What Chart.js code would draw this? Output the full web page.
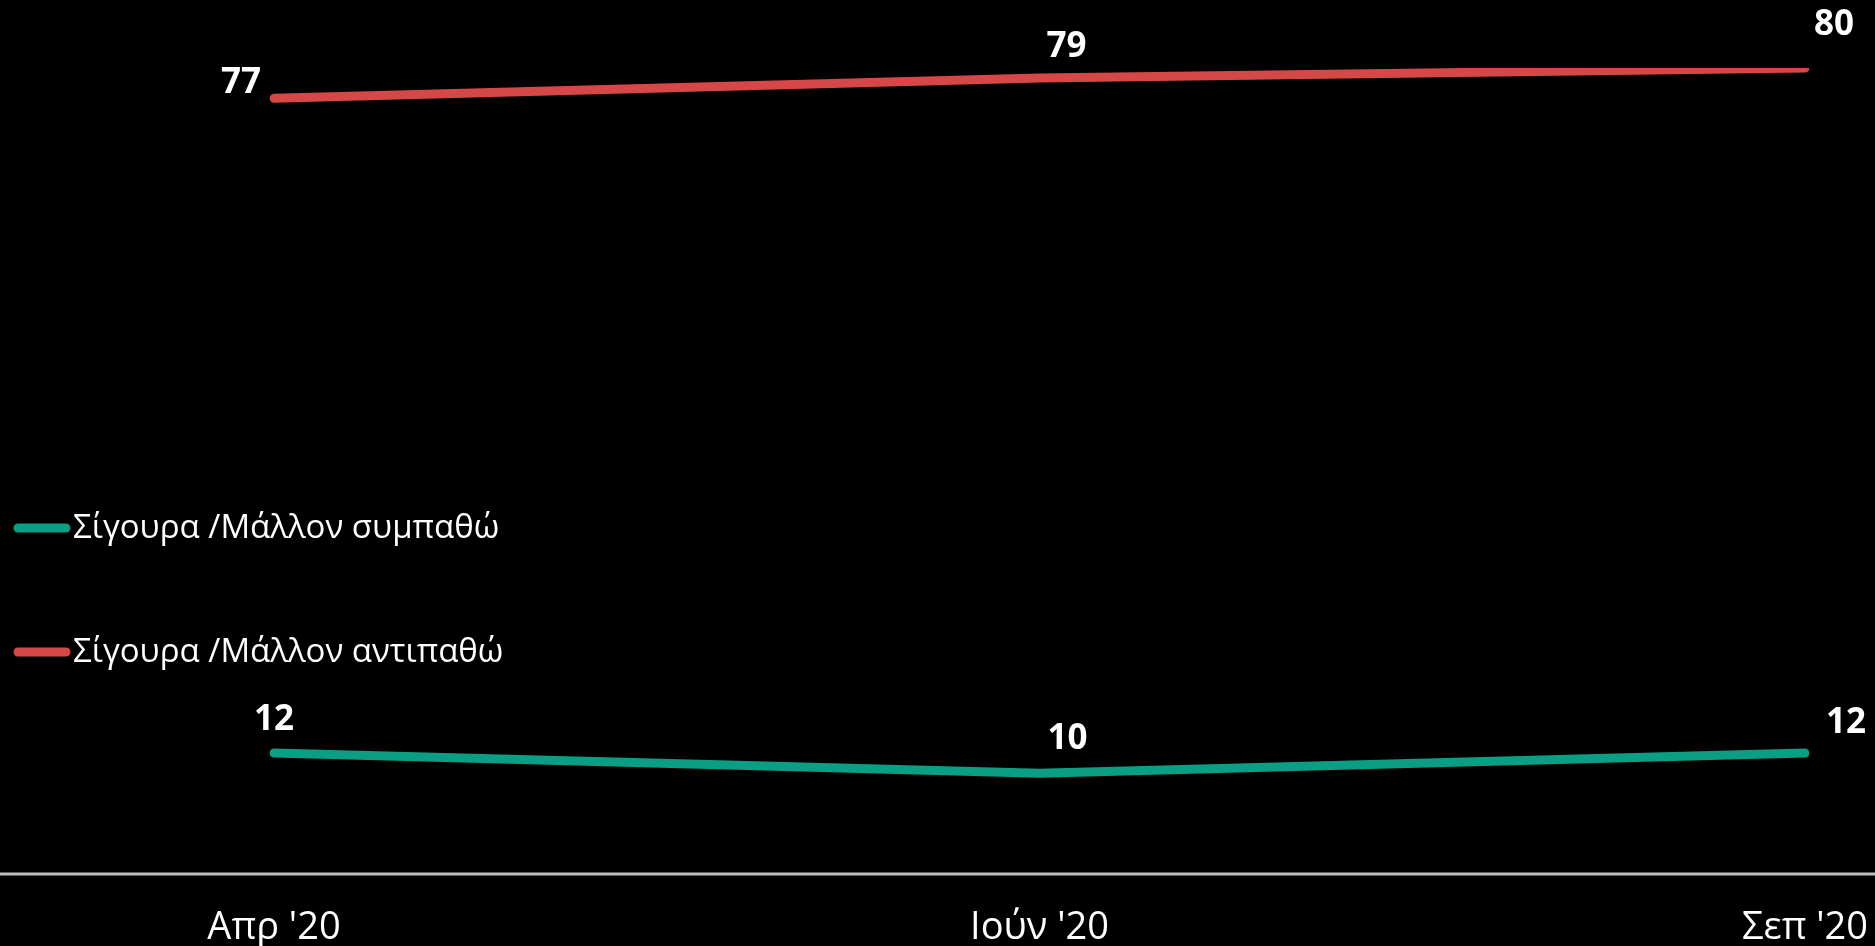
<!DOCTYPE html>
<html>
<head>
<meta charset="utf-8">
<script src="https://cdn.jsdelivr.net/npm/chart.js@4.4.1/dist/chart.umd.min.js"></script>
<style>
  html, body { margin: 0; padding: 0; background: #000; }
  #wrap { width: 1875px; height: 946px; }
</style>
</head>
<body>
<div id="wrap"><canvas id="chart"></canvas></div>
<script>
var months = ["Απρ '20", "Ιούν '20", "Σεπ '20"];
var likeLabel = 'Σίγουρα /Μάλλον συμπαθώ';
var dislikeLabel = 'Σίγουρα /Μάλλον αντιπαθώ';
var likeValues = [12, 10, 12];
var dislikeValues = [77, 79, 80];

var green = '#0a9e84';
var red = '#d64848';
var fontName = "'Open Sans', sans-serif";

// where each value label sits relative to its point (px)
var labelOffsets = [
    [[0, -33], [28, -34], [41, -30]],
    [[-33, -15], [27, -31], [29, -43]]
];

var valueLabels = {
    id: 'valueLabels',
    afterDatasetsDraw: function(chart) {
        var ctx = chart.ctx;
        ctx.save();
        ctx.fillStyle = '#fff';
        ctx.font = 'bold 35px ' + fontName;
        ctx.textAlign = 'center';
        ctx.textBaseline = 'middle';
        chart.data.datasets.forEach(function(ds, i) {
            chart.getDatasetMeta(i).data.forEach(function(pt, j) {
                var off = labelOffsets[i][j];
                ctx.fillText(ds.data[j], pt.x + off[0], pt.y + off[1]);
            });
        });
        ctx.restore();
    }
};

var baseLine = {
    id: 'baseLine',
    beforeDatasetsDraw: function(chart) {
        var ctx = chart.ctx;
        var y = chart.scales.y.getPixelForValue(0);
        ctx.save();
        ctx.strokeStyle = '#bdbdbd';
        ctx.lineWidth = 3;
        ctx.beginPath();
        ctx.moveTo(0, y);
        ctx.lineTo(chart.width, y);
        ctx.stroke();
        ctx.restore();
    }
};

var sideLegend = {
    id: 'sideLegend',
    afterDraw: function(chart) {
        var ctx = chart.ctx;
        var rows = [528, 652];
        ctx.save();
        ctx.font = '33px ' + fontName;
        ctx.textBaseline = 'middle';
        ctx.lineCap = 'round';
        chart.data.datasets.forEach(function(ds, i) {
            var y = rows[i];
            ctx.strokeStyle = ds.borderColor;
            ctx.lineWidth = 9;
            ctx.beginPath();
            ctx.moveTo(18, y);
            ctx.lineTo(66, y);
            ctx.stroke();
            ctx.fillStyle = '#fff';
            ctx.fillText(ds.label, 73, y + 1);
        });
        ctx.restore();
    }
};

var chart = new Chart(document.getElementById('chart'), {
    type: 'line',
    data: {
        labels: months,
        datasets: [{
                label: likeLabel,
                data: likeValues,
                borderColor: green,
                backgroundColor: green,
                borderWidth: 9,
                borderCapStyle: 'round',
                borderJoinStyle: 'round',
                pointRadius: 0,
                tension: 0
            },
            {
                label: dislikeLabel,
                data: dislikeValues,
                borderColor: red,
                backgroundColor: red,
                borderWidth: 9,
                borderCapStyle: 'round',
                borderJoinStyle: 'round',
                pointRadius: 0,
                tension: 0
            }
        ]
    },
    options: {
        responsive: true,
        maintainAspectRatio: false,
        animation: false,
        layout: { padding: { left: 274, right: 70, top: 68, bottom: 0 } },
        plugins: {
            legend: { display: false },
            tooltip: { enabled: false }
        },
        scales: {
            x: {
                offset: false,
                grid: { display: false, drawTicks: false },
                border: { display: false },
                ticks: {
                    color: '#fff',
                    padding: 31,
                    maxRotation: 0,
                    font: { family: fontName, size: 38 }
                },
                afterFit: function(scale) {
                    scale.height = 72;
                    scale.paddingLeft = 0;
                    scale.paddingRight = 0;
                }
            },
            y: {
                display: false,
                min: 0,
                max: 80
            }
        }
    },
    plugins: [baseLine, valueLabels, sideLegend]
});
</script>
</body>
</html>
